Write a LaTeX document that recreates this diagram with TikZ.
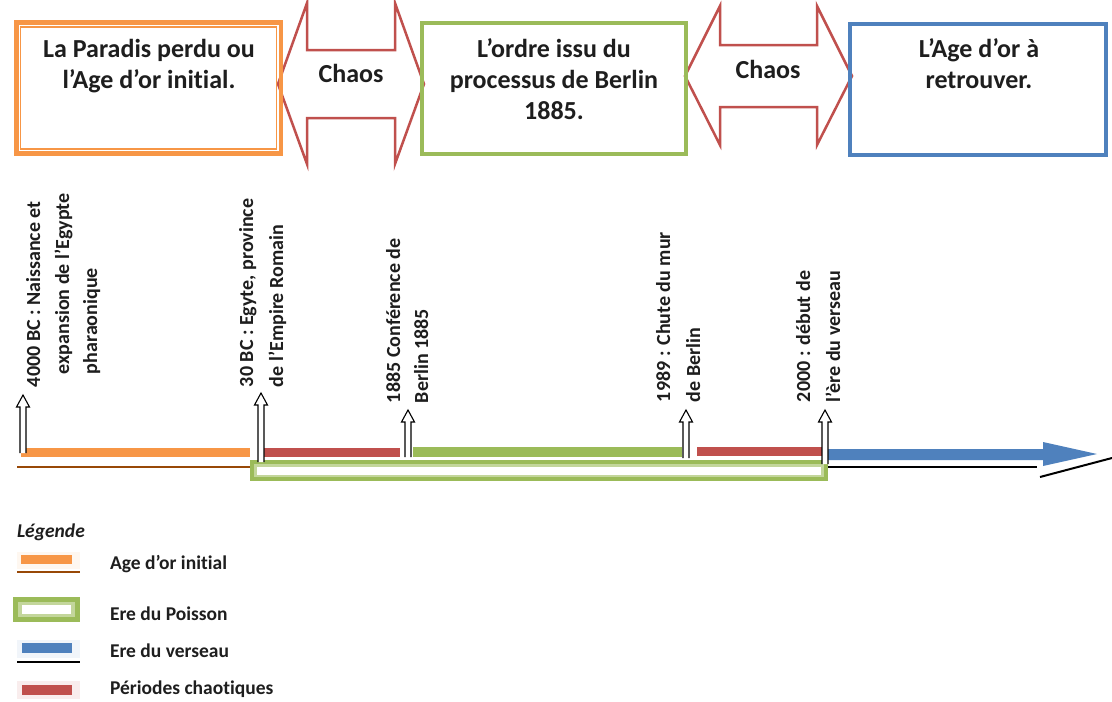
\documentclass[tikz,border=0pt]{standalone}
\usepackage{fontspec}
\setmainfont{Carlito}[Ligatures=NoCommon]
\usetikzlibrary{calc}

\definecolor{ogold}{HTML}{F79646}
\definecolor{obrown}{HTML}{984807}
\definecolor{pgreen}{HTML}{9BBB59}
\definecolor{pgreenlt}{HTML}{C3D69B}
\definecolor{vblue}{HTML}{4F81BD}
\definecolor{cred}{HTML}{C0504D}
\definecolor{ink}{HTML}{1E1E1E}
\definecolor{shade}{HTML}{404040}

% hollow upward block arrow from a point on the timeline to its tip
\newcommand\eventarrow[2]{%
  \filldraw[evarrow] let \p1=(#1), \p2=(#2) in
    (\x1-3pt,\y1) -- (\x1-3pt,\y2-12pt) -- (\x1-6.5pt,\y2-12pt) -- (\x1,\y2)
    -- (\x1+6.5pt,\y2-12pt) -- (\x1+3pt,\y2-12pt) -- (\x1+3pt,\y1);
}

\begin{document}
\begin{tikzpicture}[x=1pt,y=-1pt,
  every node/.style={inner sep=0pt, outer sep=0pt, text=ink},
  erabox/.style={line width=4.5pt, minimum width=#1, minimum height=131pt},
  boxtext/.style={font=\bfseries\fontsize{26}{31}\selectfont, align=center, anchor=north},
  chaostext/.style={font=\bfseries\fontsize{26}{31}\selectfont},
  chaosarrow/.style={draw=cred, line width=2.5pt, fill=white, line join=miter},
  vlabel/.style={font=\bfseries\fontsize{20}{24}\selectfont, rotate=90, anchor=base west},
  legtext/.style={font=\bfseries\fontsize{19.5}{23}\selectfont, anchor=base west},
  evarrow/.style={draw=black, line width=1.1pt, fill=white, line join=miter},
]
\useasboundingbox (0,0) rectangle (1112,702);
\fill[white] (0,0) rectangle (1112,702);

% ---------- the two "Chaos" double arrows ----------
\filldraw[chaosarrow] (278,84) -- (307,3) -- (307,50) -- (395,50) -- (395,3)
  -- (424,84) -- (395,164) -- (395,118) -- (307,118) -- (307,164) -- cycle;
\node[chaostext] (chaos1) at (351,73) {Chaos};

\filldraw[chaosarrow] (685,76) -- (720,6) -- (720,45) -- (817,45) -- (817,6)
  -- (852,76) -- (817,145) -- (817,107) -- (720,107) -- (720,145) -- cycle;
\node[chaostext] (chaos2) at (768,69) {Chaos};

% ---------- the three era boxes ----------
\node[erabox=264.5pt, draw=ogold] (bx1) at (148.5,88) {};
\draw[ogold, line width=1.2pt] ($(bx1.north west)+(4.5,4.5)$) rectangle ($(bx1.south east)+(-4.5,-4.5)$);
\node[boxtext] (tx1) at (149,39) {La Paradis perdu ou\\l’Age d’or initial.};

\node[erabox=264pt, draw=pgreen, line width=4pt] (bx2) at (554,88.5) {};
\node[boxtext] (tx2) at (554,39) {L’ordre issu du\\processus de Berlin\\1885.};

\node[erabox=256pt, draw=vblue, line width=4pt] (bx3) at (978,89) {};
\node[boxtext] (tx3) at (979,39) {L’Age d’or à\\retrouver.};

% ---------- timeline ----------
% Ere du Poisson frame
\fill[pgreen] (250,460) rectangle (828,481);
\fill[pgreenlt] (254,464) rectangle (824,477);
\fill[white] (257,467) rectangle (821,475);

% golden age
\fill[ogold] (21,448) rectangle (250,457);
\draw[obrown, line width=1.8pt] (17,467) -- (250,467);

% chaotic periods and the Berlin order
\fill[cred] (263,448) rectangle (400,457);
\fill[pgreen] (413,447) rectangle (682,457);
\fill[cred] (697,447) rectangle (822,456);

% Aquarius era arrow
\fill[vblue] (828,449) -- (1043,449) -- (1043,442) -- (1097,454) -- (1043,466)
  -- (1043,460) -- (828,460) -- cycle;
\draw[shade, line width=2pt] (828,467) -- (1037,467);
\draw[shade, line width=2pt] (1040,477) -- (1112,458);

% ---------- event markers ----------
\coordinate (e1) at (23,453);  \coordinate (e1t) at (23,395);
\coordinate (e2) at (261,462); \coordinate (e2t) at (261,393);
\coordinate (e3) at (408,457); \coordinate (e3t) at (408,410);
\coordinate (e4) at (686,458); \coordinate (e4t) at (686,410);
\coordinate (e5) at (825,464); \coordinate (e5t) at (825,410);
\eventarrow{e1}{e1t}
\eventarrow{e2}{e2t}
\eventarrow{e3}{e3t}
\eventarrow{e4}{e4t}
\eventarrow{e5}{e5t}

% ---------- event captions ----------
\node[vlabel] (l1a) at (40,387) {4000 BC : Naissance et};
\node[vlabel] (l1b) at (69,374) {expansion de l’Egypte};
\node[vlabel] (l1c) at (97,374) {pharaonique};

\node[vlabel] (l2a) at (253,387) {30 BC : Egyte, province};
\node[vlabel] (l2b) at (283,387) {de l’Empire Romain};

\node[vlabel] (l3a) at (400,403) {1885 Conférence de};
\node[vlabel] (l3b) at (428,403) {Berlin 1885};

\node[vlabel] (l4a) at (670,402) {1989 : Chute du mur};
\node[vlabel] (l4b) at (700,402) {de Berlin};

\node[vlabel] (l5a) at (810,402) {2000 : début de};
\node[vlabel] (l5b) at (840,402) {l’ère du verseau};

% ---------- legend ----------
\node[legtext, font=\bfseries\itshape\fontsize{19.5}{23}\selectfont] (leg) at (17,537.5) {Légende};

\fill[ogold!8] (17,552) rectangle (80,569);
\fill[ogold] (21,555) rectangle (72,564);
\draw[obrown, line width=1.8pt] (17,572) -- (80,572);
\node[legtext] (lg1) at (110,569.5) {Age d’or initial};

\fill[pgreen] (13,597) rectangle (80,622);
\fill[pgreenlt] (18,602) rectangle (75,617);
\fill[white] (22,605) rectangle (71,614);
\node[legtext] (lg2) at (110,620.5) {Ere du Poisson};

\fill[vblue!8] (17,640) rectangle (80,658);
\fill[vblue] (22,643) rectangle (72,653);
\draw[shade, line width=1.8pt] (17,662) -- (80,662);
\node[legtext] (lg3) at (110,657.5) {Ere du verseau};

\fill[cred!10] (17,681) rectangle (80,699);
\fill[cred] (22,685) rectangle (72,695);
\node[legtext] (lg4) at (110,694.5) {Périodes chaotiques};
\end{tikzpicture}
\end{document}
